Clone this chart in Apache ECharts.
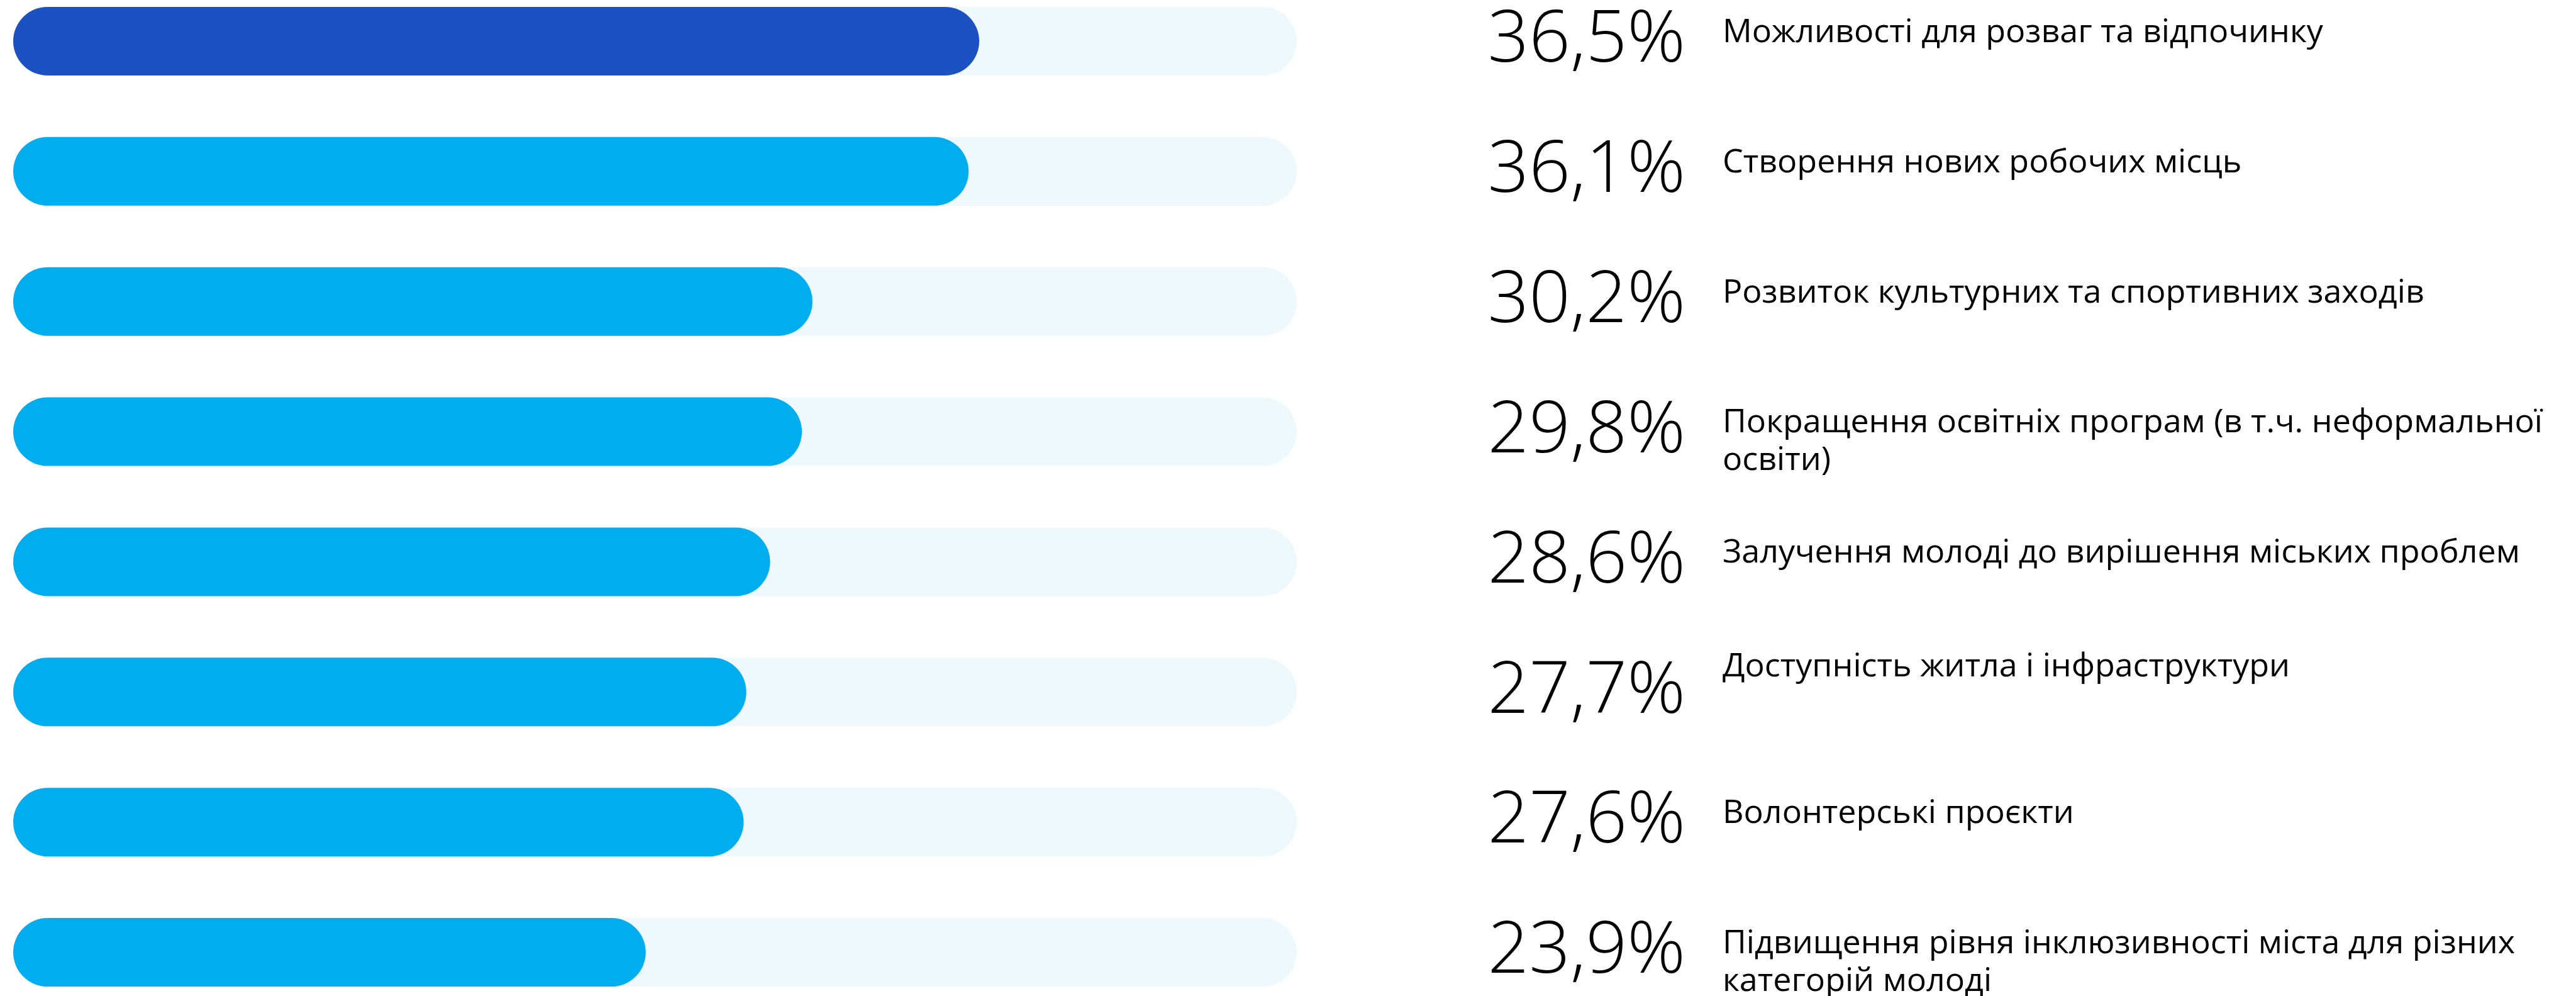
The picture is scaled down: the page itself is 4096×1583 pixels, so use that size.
<!DOCTYPE html>
<html>
<head>
<meta charset="utf-8">
<script src="https://cdn.jsdelivr.net/npm/echarts@6/dist/echarts.min.js"></script>
<style>
  html, body { margin: 0; padding: 0; background: #fff; }
  #chart { width: 4096px; height: 1583px; }
</style>
</head>
<body>
<div id="chart"></div>
<script>
// categories (top to bottom) and shares, %
var categories = [
    'Можливості для розваг та відпочинку',
    'Створення нових робочих місць',
    'Розвиток культурних та спортивних заходів',
    'Покращення освітніх програм (в т.ч. неформальної\nосвіти)',
    'Залучення молоді до вирішення міських проблем',
    'Доступність житла і інфраструктури',
    'Волонтерські проєкти',
    'Підвищення рівня інклюзивності міста для різних\nкатегорій молоді'
];
var shares = [36.5, 36.1, 30.2, 29.8, 28.6, 27.7, 27.6, 23.9];

var pctText = function (v) {
    return v.toFixed(1).replace('.', ',') + '%';
};
var topShare = Math.max.apply(null, shares);

var catLabel = {
    align: 'left',
    verticalAlign: 'top',
    padding: [26, 0, 0, 0],
    fontFamily: 'Open Sans',
    fontSize: 52,
    lineHeight: 60,
    color: '#000'
};

var myChart = echarts.init(document.getElementById('chart'));
var option = {
    animation: false,
    grid: [
        { left: 21, width: 2041, top: -38, height: 1655, outerBoundsMode: 'none' },
        // second grid only carries the category text, shifted up
        { left: 21, width: 2041, top: -107.5, height: 1655, outerBoundsMode: 'none' }
    ],
    xAxis: [
        { gridIndex: 0, type: 'value', min: 0, max: 48.5, show: false },
        { gridIndex: 1, type: 'value', min: 0, max: 48.5, show: false }
    ],
    yAxis: [
        {
            gridIndex: 0,
            type: 'category',
            inverse: true,
            data: categories,
            axisLine: { show: false },
            axisTick: { show: false },
            axisLabel: { show: false }
        },
        {
            gridIndex: 0,
            type: 'category',
            inverse: true,
            position: 'right',
            data: shares.map(pctText),
            axisLine: { show: false },
            axisTick: { show: false },
            axisLabel: {
                interval: 0,
                margin: 618,
                align: 'right',
                verticalAlign: 'middle',
                fontFamily: 'Open Sans',
                fontWeight: 300,
                fontSize: 115,
                color: '#000'
            }
        },
        {
            gridIndex: 1,
            type: 'category',
            inverse: true,
            position: 'right',
            data: categories.map(function (c, i) {
                // the 6th label sits higher in the original
                if (i === 5) {
                    return { value: c, textStyle: Object.assign({}, catLabel, { padding: [0, 0, 0, 0] }) };
                }
                return c;
            }),
            axisLine: { show: false },
            axisTick: { show: false },
            axisLabel: Object.assign({ interval: 0, margin: 677 }, catLabel)
        }
    ],
    series: [
        {
            type: 'bar',
            xAxisIndex: 0,
            yAxisIndex: 0,
            data: shares,
            barWidth: 109,
            showBackground: true,
            backgroundStyle: {
                color: '#EFF8FC',
                borderRadius: 55
            },
            itemStyle: {
                borderRadius: 55,
                color: function (p) {
                    return p.value === topShare ? '#1B51C1' : '#00AEEF';
                }
            }
        }
    ]
};

option && myChart.setOption(option);
</script>
</body>
</html>
